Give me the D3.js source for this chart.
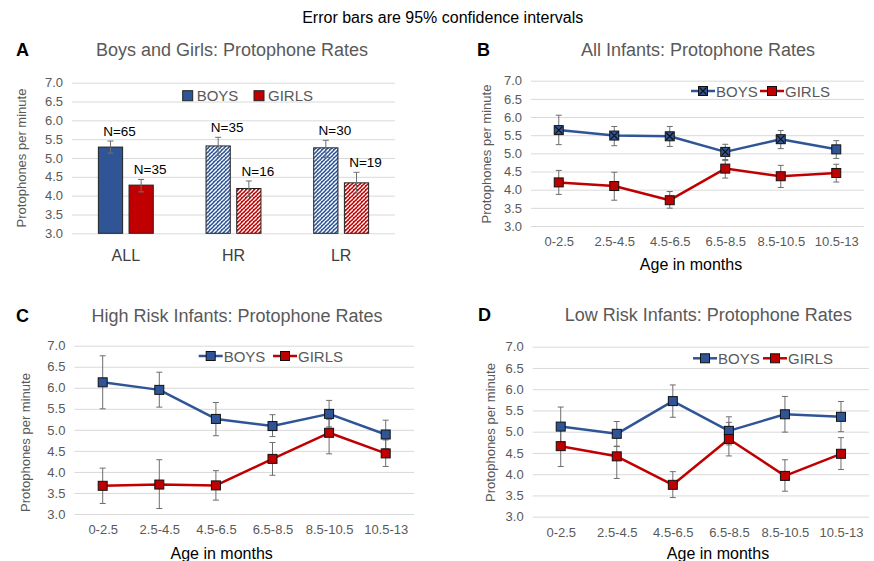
<!DOCTYPE html>
<html>
<head>
<meta charset="utf-8">
<script src="https://cdn.jsdelivr.net/npm/d3@7"></script>
<style>
  body { margin: 0; background: #fff; }
  text { font-family: "Liberation Sans", Arial, sans-serif; }
</style>
</head>
<body>
<div id="chart"></div>
<script>
var W = 874, H = 561;
var blue = "#2F5597", red = "#C00000", grey = "#595959", gridColor = "#d9d9d9";

// shared
var yTicks = [3.0, 3.5, 4.0, 4.5, 5.0, 5.5, 6.0, 6.5, 7.0];
var ages = ["0-2.5", "2.5-4.5", "4.5-6.5", "6.5-8.5", "8.5-10.5", "10.5-13"];
var groups = ["ALL", "HR", "LR"];

// A: bars
var aBoys   = [5.29, 5.32, 5.27];
var aBoysLo = [5.13, 5.07, 5.01];
var aBoysHi = [5.45, 5.55, 5.47];
var aGirls   = [4.28, 4.19, 4.34];
var aGirlsLo = [4.10, 3.98, 4.07];
var aGirlsHi = [4.43, 4.39, 4.62];
var aNBoys  = [65, 35, 30];
var aNGirls = [35, 16, 19];

// B: all infants
var bBoys   = [5.64, 5.49, 5.47, 5.04, 5.39, 5.11];
var bBoysLo = [5.24, 5.21, 5.19, 4.83, 5.13, 4.86];
var bBoysHi = [6.05, 5.74, 5.74, 5.25, 5.63, 5.35];
var bGirls   = [4.20, 4.10, 3.71, 4.58, 4.37, 4.46];
var bGirlsLo = [3.87, 3.71, 3.49, 4.32, 4.06, 4.21];
var bGirlsHi = [4.53, 4.48, 3.95, 4.80, 4.67, 4.70];

// C: high risk
var cBoys   = [6.13, 5.95, 5.26, 5.09, 5.38, 4.89];
var cBoysLo = [5.50, 5.54, 4.86, 4.84, 5.07, 4.55];
var cBoysHi = [6.76, 6.37, 5.65, 5.36, 5.70, 5.23];
var cGirls   = [3.67, 3.70, 3.68, 4.31, 4.93, 4.44];
var cGirlsLo = [3.25, 3.13, 3.33, 3.92, 4.43, 4.13];
var cGirlsHi = [4.09, 4.29, 4.03, 4.70, 5.25, 4.76];

// D: low risk
var dBoys   = [5.12, 4.95, 5.72, 5.02, 5.41, 5.35];
var dBoysLo = [4.66, 4.66, 5.34, 4.69, 4.99, 5.00];
var dBoysHi = [5.58, 5.24, 6.10, 5.35, 5.83, 5.71];
var dGirls   = [4.66, 4.42, 3.75, 4.83, 3.96, 4.48];
var dGirlsLo = [4.18, 3.90, 3.45, 4.43, 3.60, 4.11];
var dGirlsHi = [5.14, 4.65, 4.06, 5.22, 4.34, 4.86];

var svg = d3.select("#chart").append("svg")
    .attr("width", W)
    .attr("height", H);

var defs = svg.append("defs");
function hatch(id, color) {
  var p = defs.append("pattern")
      .attr("id", id)
      .attr("patternUnits", "userSpaceOnUse")
      .attr("width", 4).attr("height", 4);
  p.append("rect").attr("width", 4).attr("height", 4).attr("fill", "#fff");
  p.append("path").attr("d", "M-1,5L5,-1M-1,1L1,-1M3,5L5,3")
      .attr("stroke", color).attr("stroke-width", 1.5);
  p.append("path").attr("d", "M0.5,0.5L2,2")
      .attr("stroke", color).attr("stroke-width", 0.8);
}
hatch("hatchBlue", blue);
hatch("hatchRed", red);

// main title
svg.append("text")
    .attr("x", 442.7).attr("y", 22.7)
    .attr("text-anchor", "middle")
    .attr("font-size", "16px")
    .attr("fill", "#000")
    .text("Error bars are 95% confidence intervals");

function yAxisAndGrid(y, left, right, labX, labY) {
  svg.append("g")
      .attr("transform", "translate(" + left + ",0)")
      .call(d3.axisLeft(y).tickValues(yTicks).tickSize(-(right - left)).tickFormat(""))
      .call(function(g) { g.select(".domain").remove(); })
      .selectAll("line").attr("stroke", gridColor).attr("stroke-width", 1);

  var ya = svg.append("g")
      .attr("transform", "translate(" + left + ",0)")
      .call(d3.axisLeft(y).tickValues(yTicks).tickSize(0).tickPadding(9).tickFormat(d3.format(".1f")));
  ya.select(".domain").remove();
  ya.selectAll("text").attr("font-size", "13px").attr("fill", grey)
      .attr("font-family", "Liberation Sans, Arial, sans-serif");

  svg.append("text")
      .attr("transform", "translate(" + labX + "," + labY + ") rotate(-90)")
      .attr("text-anchor", "middle")
      .attr("dominant-baseline", "central")
      .attr("font-size", "13px")
      .attr("fill", grey)
      .text("Protophones per minute");
}

function heading(letter, lx, title, tx, ty) {
  svg.append("text")
      .attr("x", lx).attr("y", ty)
      .attr("font-size", "18px").attr("font-weight", "bold")
      .attr("fill", "#000")
      .text(letter);
  svg.append("text")
      .attr("x", tx).attr("y", ty)
      .attr("text-anchor", "middle")
      .attr("font-size", "18px")
      .attr("fill", grey)
      .text(title);
}

function errBar(g, x, yLo, yHi) {
  g.append("line").attr("x1", x).attr("x2", x).attr("y1", yLo).attr("y2", yHi)
      .attr("stroke", "#6e6e6e").attr("stroke-width", 1);
  g.append("line").attr("x1", x - 3).attr("x2", x + 3).attr("y1", yLo).attr("y2", yLo)
      .attr("stroke", "#6e6e6e").attr("stroke-width", 1);
  g.append("line").attr("x1", x - 3).attr("x2", x + 3).attr("y1", yHi).attr("y2", yHi)
      .attr("stroke", "#6e6e6e").attr("stroke-width", 1);
}

// ---------- Panel A ----------
(function() {
  var left = 72, right = 395, top = 82.7, bottom = 233.3;
  var x = d3.scaleBand().domain(groups).range([left, right])
      .paddingInner(0.49).paddingOuter(0.245);
  var sub = d3.scaleBand().domain(["boys", "girls"]).range([0, x.bandwidth()]).paddingInner(0.21);
  var y = d3.scaleLinear().domain([3, 7]).range([bottom, top]);

  heading("A", 16, "Boys and Girls: Protophone Rates", 232, 56);
  yAxisAndGrid(y, left, right, 21.7, 158);

  var rows = groups.map(function(g, i) {
    return [
      { g: g, i: i, s: "boys", v: aBoys[i], lo: aBoysLo[i], hi: aBoysHi[i], n: aNBoys[i] },
      { g: g, i: i, s: "girls", v: aGirls[i], lo: aGirlsLo[i], hi: aGirlsHi[i], n: aNGirls[i] }
    ];
  });
  var bars = [].concat.apply([], rows);

  svg.append("g").selectAll("rect")
      .data(bars)
      .enter().append("rect")
      .attr("x", function(d) { return x(d.g) + sub(d.s); })
      .attr("y", function(d) { return y(d.v); })
      .attr("width", sub.bandwidth())
      .attr("height", function(d) { return y(3) - y(d.v); })
      .attr("fill", function(d) {
        if (d.i === 0) return d.s === "boys" ? blue : red;
        return d.s === "boys" ? "url(#hatchBlue)" : "url(#hatchRed)";
      })
      .attr("stroke", "#222")
      .attr("stroke-width", 1);

  var eg = svg.append("g");
  bars.forEach(function(d) {
    var cx = x(d.g) + sub(d.s) + sub.bandwidth() / 2;
    errBar(eg, cx, y(d.lo), y(d.hi));
  });

  svg.append("g").selectAll("text")
      .data(bars)
      .enter().append("text")
      .attr("x", function(d) { return x(d.g) + sub(d.s) + sub.bandwidth() / 2 + 9; })
      .attr("y", function(d) { return y(d.hi) - 5; })
      .attr("text-anchor", "middle")
      .attr("font-size", "13.5px")
      .attr("fill", "#000")
      .text(function(d) { return "N=" + d.n; });

  var xa = svg.append("g")
      .attr("transform", "translate(0," + bottom + ")")
      .call(d3.axisBottom(x).tickSize(0).tickPadding(16));
  xa.select(".domain").remove();
  xa.selectAll("text").attr("font-size", "16px").attr("fill", "#404040")
      .attr("font-family", "Liberation Sans, Arial, sans-serif");

  // legend
  var leg = [{ label: "BOYS", c: blue, x: 182.7 }, { label: "GIRLS", c: red, x: 254 }];
  leg.forEach(function(l) {
    svg.append("rect").attr("x", l.x).attr("y", 90.7).attr("width", 10).attr("height", 10)
        .attr("fill", l.c).attr("stroke", "#222").attr("stroke-width", 1);
    svg.append("text").attr("x", l.x + 14).attr("y", 101.2)
        .attr("font-size", "15px").attr("fill", grey).text(l.label);
  });
})();

// ---------- line panels ----------
function marker(g, cx, cy, color, cross) {
  g.append("rect")
      .attr("x", cx - 4.5).attr("y", cy - 4.5)
      .attr("width", 9).attr("height", 9)
      .attr("fill", color).attr("stroke", "#111").attr("stroke-width", 1);
  if (cross) {
    g.append("path")
        .attr("d", "M" + (cx - 3.5) + "," + (cy - 3.5) + "L" + (cx + 3.5) + "," + (cy + 3.5) +
                   "M" + (cx - 3.5) + "," + (cy + 3.5) + "L" + (cx + 3.5) + "," + (cy - 3.5))
        .attr("stroke", "#111").attr("stroke-width", 1.2);
  }
}

function linePanel(p) {
  var x = d3.scalePoint().domain(ages).range([p.left, p.right]).padding(0.5);
  var y = d3.scaleLinear().domain([3, 7]).range([p.bottom, p.top]);

  heading(p.letter, p.letterX, p.title, p.titleX, p.titleY);
  yAxisAndGrid(y, p.left, p.right, p.labX, p.labY);

  var xa = svg.append("g")
      .attr("transform", "translate(0," + p.bottom + ")")
      .call(d3.axisBottom(x).tickSize(0).tickPadding(11));
  xa.select(".domain").remove();
  xa.selectAll("text").attr("font-size", "13px").attr("fill", grey)
      .attr("font-family", "Liberation Sans, Arial, sans-serif");

  svg.append("text")
      .attr("x", p.ageX).attr("y", p.ageY)
      .attr("text-anchor", "middle")
      .attr("font-size", "16px")
      .attr("fill", "#000")
      .text("Age in months");

  var series = [
    { name: "BOYS", c: blue, v: p.boys, lo: p.boysLo, hi: p.boysHi, legX: p.legBoys },
    { name: "GIRLS", c: red, v: p.girls, lo: p.girlsLo, hi: p.girlsHi, legX: p.legGirls }
  ];

  var line = d3.line()
      .x(function(d, i) { return x(ages[i]); })
      .y(function(d) { return y(d); });

  series.forEach(function(s) {
    svg.append("path")
        .attr("d", line(s.v))
        .attr("fill", "none")
        .attr("stroke", s.c)
        .attr("stroke-width", 2.5)
        .attr("stroke-linejoin", "round");
  });

  series.forEach(function(s) {
    var eg = svg.append("g");
    s.v.forEach(function(v, i) { errBar(eg, x(ages[i]), y(s.lo[i]), y(s.hi[i])); });
  });

  series.forEach(function(s, k) {
    var mg = svg.append("g");
    s.v.forEach(function(v, i) {
      var cross = k === 0 && p.crossBoys && i < ages.length - 1;
      marker(mg, x(ages[i]), y(v), s.c, cross);
    });
  });

  // legend
  series.forEach(function(s, k) {
    svg.append("line")
        .attr("x1", s.legX - 12).attr("x2", s.legX + 12)
        .attr("y1", p.legY).attr("y2", p.legY)
        .attr("stroke", s.c).attr("stroke-width", 2.5);
    marker(svg, s.legX, p.legY, s.c, k === 0 && p.crossBoys);
    svg.append("text")
        .attr("x", s.legX + 13).attr("y", p.legY + 5.5)
        .attr("font-size", "15px").attr("fill", grey)
        .text(s.name);
  });
}

linePanel({
  letter: "B", letterX: 477, title: "All Infants: Protophone Rates", titleX: 698, titleY: 56,
  left: 531, right: 864, top: 80.7, bottom: 226,
  labX: 486.7, labY: 154, ageX: 691, ageY: 270,
  legBoys: 703, legGirls: 772, legY: 91, crossBoys: true,
  boys: bBoys, boysLo: bBoysLo, boysHi: bBoysHi,
  girls: bGirls, girlsLo: bGirlsLo, girlsHi: bGirlsHi
});

linePanel({
  letter: "C", letterX: 16, title: "High Risk Infants: Protophone Rates", titleX: 237, titleY: 322,
  left: 74.4, right: 414, top: 345.7, bottom: 514,
  labX: 25, labY: 442.5, ageX: 221.7, ageY: 559,
  legBoys: 210.7, legGirls: 285, legY: 356, crossBoys: false,
  boys: cBoys, boysLo: cBoysLo, boysHi: cBoysHi,
  girls: cGirls, girlsLo: cGirlsLo, girlsHi: cGirlsHi
});

linePanel({
  letter: "D", letterX: 478, title: "Low Risk Infants: Protophone Rates", titleX: 708.3, titleY: 321,
  left: 532.7, right: 869, top: 346.7, bottom: 516.7,
  labX: 490, labY: 432.5, ageX: 718, ageY: 559,
  legBoys: 705, legGirls: 775, legY: 358.3, crossBoys: false,
  boys: dBoys, boysLo: dBoysLo, boysHi: dBoysHi,
  girls: dGirls, girlsLo: dGirlsLo, girlsHi: dGirlsHi
});
</script>
</body>
</html>
